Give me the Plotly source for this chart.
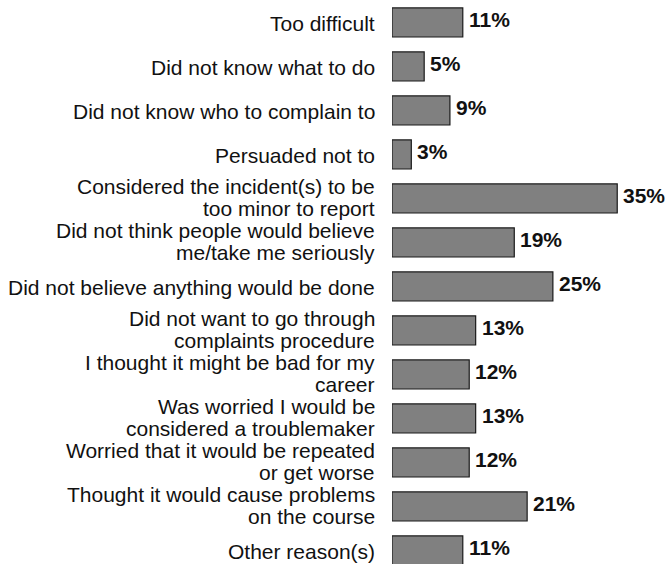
import plotly.graph_objects as go

reasons = [
    "Too difficult",
    "Did not know what to do",
    "Did not know who to complain to",
    "Persuaded not to",
    "Considered the incident(s) to be<br>too minor to report",
    "Did not think people would believe<br>me/take me seriously",
    "Did not believe anything would be done",
    "Did not want to go through<br>complaints procedure",
    "I thought it might be bad for my<br>career",
    "Was worried I would be<br>considered a troublemaker",
    "Worried that it would be repeated<br>or get worse",
    "Thought it would cause problems<br>on the course",
    "Other reason(s)",
]
percent = [11, 5, 9, 3, 35, 19, 25, 13, 12, 13, 12, 21, 11]

FONT = "Liberation Sans, Arial, sans-serif"
LABEL_SIZE = 21
VALUE_SIZE = 21
LINE_GAP = 22  # px between the two lines of a wrapped label

fig = go.Figure(
    go.Bar(
        x=percent,
        y=reasons,
        orientation="h",
        marker=dict(color="#808080", line=dict(color="#1a1a1a", width=1.2)),
        hoverinfo="skip",
    )
)

annotations = []
for r, v in zip(reasons, percent):
    lines = r.split("<br>")
    n = len(lines)
    # category label, one annotation per line for tight line spacing
    for k, line in enumerate(lines):
        offset = ((n - 1) / 2 - k) * LINE_GAP
        annotations.append(dict(
            x=0, xref="paper", y=r, yref="y",
            text=line, showarrow=False, xanchor="right", align="right",
            xshift=-15, yshift=offset + (1 if n > 1 else -1),
            font=dict(family=FONT, size=LABEL_SIZE, color="#111111"),
        ))
    # value label at the end of the bar
    annotations.append(dict(
        x=v, xref="x", y=r, yref="y",
        text=f"<b>{v}%</b>", showarrow=False, xanchor="left",
        xshift=4, yshift=3,
        font=dict(family=FONT, size=VALUE_SIZE, color="#111111"),
    ))

fig.update_layout(
    width=670, height=564,
    margin=dict(l=392, r=0, t=0, b=0),
    paper_bgcolor="white", plot_bgcolor="white",
    bargap=0.34,
    showlegend=False,
    xaxis=dict(range=[0, 43.2], visible=False),
    yaxis=dict(
        type="category",
        categoryorder="array", categoryarray=reasons,
        range=[12.307, -0.511],
        visible=False,
    ),
    annotations=annotations,
)

fig.write_html("out.html")
